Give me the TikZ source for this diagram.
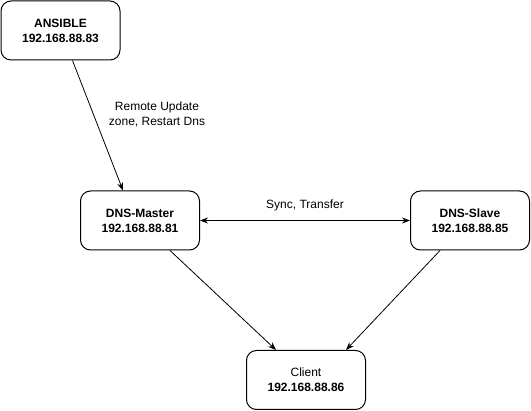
\documentclass[tikz,border=0pt]{standalone}
\usepackage{fontspec}
\setmainfont{Liberation Sans}
\usetikzlibrary{arrows.meta,calc}
\begin{document}
\begin{tikzpicture}[x=1pt,y=-1pt,
  box/.style={draw,line width=1pt,rounded corners=10pt,minimum width=119pt,minimum height=59pt,align=center,font=\fontsize{12}{15}\selectfont,inner sep=0pt},
  conn/.style={line width=0.8pt,-{Stealth[length=8pt,width=6pt]}},
  lbl/.style={align=center,font=\fontsize{12}{15}\selectfont}]
\useasboundingbox (0,0) rectangle (531,411);
\node[box] (ansible) at (60.5,30.5) {\textbf{ANSIBLE}\\\textbf{192.168.88.83}};
\node[box] (master) at (140,220.5) {\textbf{DNS-Master}\\\textbf{192.168.88.81}};
\node[box] (slave) at (470,220.5) {\textbf{DNS-Slave}\\\textbf{192.168.88.85}};
\node[box] (client) at (306,380) {Client\\\textbf{192.168.88.86}};
\draw[conn] ($(ansible.south)+(12,0)$) -- ($(master.north)+(-17,0)$);
\draw[line width=0.8pt,{Stealth[length=8pt,width=6pt]}-{Stealth[length=8pt,width=6pt]}] (master.east) -- (slave.west);
\draw[conn] ($(master.south)+(30,0)$) -- ($(client.north)+(-30,0)$);
\draw[conn] ($(slave.south)+(-30,0)$) -- ($(client.north)+(40,0)$);
\node[lbl] (l1) at (157,114.5) {Remote Update\\zone, Restart Dns};
\node[lbl] (l2) at (305,205) {Sync, Transfer};
\end{tikzpicture}
\end{document}
